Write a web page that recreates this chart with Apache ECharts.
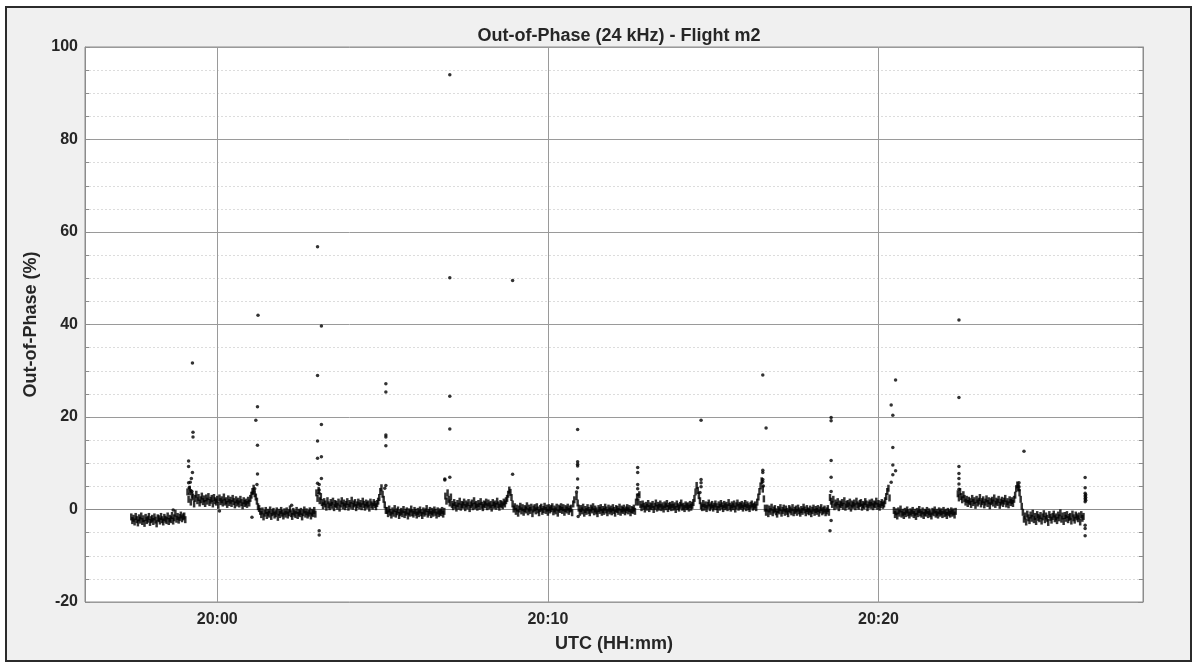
<!DOCTYPE html>
<html>
<head>
<meta charset="utf-8">
<script src="https://cdn.jsdelivr.net/npm/echarts@6/dist/echarts.min.js"></script>
<style>
  html, body { margin: 0; padding: 0; background: #ffffff; width: 1197px; height: 669px; overflow: hidden; }
  #frame { position: absolute; left: 5px; top: 6px; width: 1183px; height: 652px; border: 2px solid #2b2b2b; background: #f0f0f0; }
  #chart { position: absolute; left: 0; top: 0; width: 1197px; height: 669px; }
</style>
</head>
<body>
<div id="frame"></div>
<div id="chart"></div>
<script>
// ---- Data (UTC times, out-of-phase %) ----
const chartTitle = 'Out-of-Phase (24 kHz) - Flight m2';
const xAxisName = 'UTC (HH:mm)';
const yAxisName = 'Out-of-Phase (%)';
const xMinTime = '19:56:00';
const xMaxTime = '20:28:00';
const xTickTimes = ['20:00:00', '20:10:00', '20:20:00'];
const yTicks = [-20, 0, 20, 40, 60, 80, 100];

// band segments: start time and values sampled every sampleStep seconds
const sampleStep = 2;
const segStarts = ['19:57:24','19:59:06','20:01:16','20:03:00','20:05:08','20:06:54','20:09:00','20:10:52','20:12:42','20:14:42','20:16:36','20:18:32','20:20:28','20:22:24','20:24:22'];
const seg01 = [-1.6,-2.4,-1.9,-2.7,-1.5,-2.2,-2.9,-1.8,-2.3,-1.4,-2.6,-2.0,-3.0,-1.7,-2.4,-2.1,-1.5,-2.8,-2.2,-1.9,-2.6,-1.6,-2.3,-3.1,-1.8,-2.0,-2.5,-1.5,-2.2,-2.7,-1.7,-2.1,-2.4,-1.4,-2.6,-1.9,-2.2,-1.3,-2.5,-1.8,-0.8,-2.1,-1.5,-2.3,-1.7,-1.2,-2.0,-1.6,-1.4,-2.2];
const seg02 = [3.8,2.2,4.4,1.6,3.1,2.7,1.2,2.4,3.3,1.9,2.6,1.4,2.1,2.9,1.7,2.3,1.3,2.5,1.8,2.8,1.5,2.0,2.4,1.2,2.6,1.9,1.6,2.2,0.9,2.5,1.7,2.1,1.4,2.7,1.6,1.9,1.1,2.3,1.5,2.0,1.3,2.4,1.7,1.0,2.1,1.4,1.8,1.2,2.2,1.5,0.8,1.9,1.3,1.6,1.1,2.0,1.4,2.4,3.1,3.9,4.6,3.4,2.7,1.8,0.6];
const seg03 = [0.2,-0.4,-1.1,-0.3,-1.6,-0.8,-0.2,-1.3,-0.6,-1.0,-0.1,-1.5,-0.7,-0.4,-1.2,-0.9,-0.3,-1.7,-0.6,-1.1,-0.2,-0.8,-1.4,-0.5,-1.0,-0.3,-1.2,-0.7,0.1,-0.9,-1.5,-0.4,-0.8,-1.1,-0.2,-1.3,-0.6,-0.9,-0.4,-1.6,-0.7,-0.1,-1.0,-0.5,-1.2,-0.8,-0.3,-1.4,-0.6,-0.9,-0.2,-1.0];
const seg04 = [3.6,2.4,4.1,1.9,2.8,1.5,0.8,1.7,1.2,0.5,1.9,1.0,0.6,1.5,0.9,1.8,0.4,1.3,1.1,0.7,1.6,0.3,1.2,1.9,0.8,1.4,0.6,1.1,1.7,0.5,1.3,0.9,2.0,0.7,1.2,1.5,0.4,1.0,1.6,0.8,1.3,0.6,1.8,1.1,0.5,1.4,0.9,1.2,0.3,1.6,1.0,0.7,1.5,1.1,0.6,1.3,1.8,2.6,3.9,4.7,3.3,2.2,1.0,-0.2];
const seg05 = [-0.2,-0.9,0.1,-0.6,-1.2,-0.3,-0.8,0.2,-1.0,-0.5,-0.1,-1.3,-0.7,-0.4,-0.9,0.0,-1.1,-0.6,-0.3,-1.4,-0.5,-0.8,0.1,-0.7,-1.0,-0.2,-0.6,-1.2,-0.4,-0.9,-0.1,-0.7,-1.3,-0.3,-0.8,-0.5,0.2,-1.0,-0.6,-0.2,-1.1,-0.4,-0.8,-0.1,-0.6,-1.2,-0.3,-0.9,-0.5,-0.7,-0.2,-1.0,-0.4];
const seg06 = [2.9,1.8,3.6,2.2,1.4,2.7,1.1,0.6,1.5,0.9,0.3,1.3,0.7,1.8,0.5,1.1,0.9,1.6,0.4,1.2,0.8,1.5,0.2,1.0,1.4,0.6,1.9,0.8,1.1,0.5,1.3,0.7,1.7,0.9,0.4,1.2,1.0,1.6,0.6,1.4,0.8,1.1,0.3,1.5,0.9,1.2,0.7,1.8,1.0,0.5,1.3,1.1,0.8,1.6,1.2,1.9,2.4,3.3,4.2,3.7,2.6,1.2,0.1];
const seg07 = [0.6,-0.4,0.3,-0.8,0.1,0.7,-0.3,0.4,-0.6,0.2,-0.1,0.8,-0.5,0.3,-0.2,0.5,-0.9,0.1,0.4,-0.3,0.6,-0.1,-0.7,0.2,0.5,-0.4,0.0,0.7,-0.2,0.3,-0.6,0.4,-0.1,0.2,0.6,-0.5,0.1,-0.3,0.5,-0.8,0.3,0.0,0.6,-0.2,0.4,-0.6,0.2,-0.1,0.5,-0.4,0.1,0.3,-0.7,1.2,2.1];
const seg08 = [2.8,1.4,0.3,-0.6,0.2,-0.3,0.5,-0.8,0.0,-0.4,0.4,-0.2,-0.7,0.3,-0.1,0.6,-0.5,0.1,-0.3,-0.9,0.2,-0.2,0.4,-0.6,0.0,-0.4,0.5,-0.1,-0.7,0.3,-0.3,0.1,-0.5,0.4,-0.2,-0.8,0.2,0.0,-0.4,0.5,-0.6,0.1,-0.2,0.3,-0.5,-0.1,0.4,-0.3,0.2,-0.7,0.0,-0.2,0.3,-0.4,1.6];
const seg09 = [2.7,1.6,3.2,1.1,0.4,1.2,0.7,0.1,0.9,0.5,1.3,0.2,0.8,0.6,1.1,0.0,0.7,1.4,0.3,0.9,0.5,1.2,0.4,0.8,0.1,1.0,0.6,1.3,0.2,0.7,0.9,0.4,1.1,0.5,0.8,0.0,1.2,0.6,0.3,0.9,1.4,0.5,0.7,0.2,1.0,0.6,0.8,0.3,1.1,0.5,0.9,1.5,2.4,3.8,5.2,4.1,3.0,1.9,0.8,0.4];
const seg10 = [1.3,0.5,1.0,0.2,0.9,1.4,0.4,0.8,1.1,0.3,0.7,1.2,0.6,0.0,1.0,0.5,1.3,0.8,0.2,1.1,0.6,0.9,0.4,1.5,0.7,0.3,1.0,0.6,1.2,0.1,0.8,1.4,0.5,0.9,0.7,1.1,0.3,0.8,1.3,0.4,1.0,0.6,0.2,0.9,1.2,0.5,0.7,1.0,0.4,1.6,2.7,3.9,5.1,6.2,4.4,2.3,0.3];
const seg11 = [-0.6,0.3,-0.9,0.1,-0.4,0.5,-0.7,-0.1,0.2,-0.5,-1.0,0.0,-0.3,0.4,-0.8,-0.2,0.3,-0.6,0.1,-0.4,-0.9,0.2,-0.1,-0.5,0.4,-0.7,-0.2,0.1,-0.6,0.3,-0.3,-0.8,0.0,-0.4,0.5,-0.1,-0.7,0.2,-0.3,-0.5,0.1,-0.9,-0.2,0.3,-0.6,0.0,-0.4,0.2,-0.8,-0.1,0.4,-0.5,-0.2,0.1,-0.7,-0.3,0.2,-0.6];
const seg12 = [2.6,1.8,1.1,2.2,0.6,1.4,0.9,1.7,0.4,1.2,1.0,1.5,0.7,1.9,0.5,1.1,1.3,0.8,1.6,0.3,1.2,0.9,1.4,0.6,1.8,1.0,0.7,1.3,1.5,0.5,1.1,0.8,1.7,1.2,0.4,1.0,1.4,0.9,1.6,0.6,1.2,1.0,1.8,0.7,1.3,0.5,1.1,1.5,0.9,1.2,1.9,2.8,3.9,4.6,2.5];
const seg13 = [-0.2,-1.1,-0.5,-1.4,-0.3,-0.8,0.1,-1.0,-0.6,-1.3,-0.4,-0.9,-0.1,-0.7,-1.2,-0.5,-0.8,-0.2,-1.1,-0.6,-1.5,-0.4,-0.9,0.0,-0.7,-1.0,-0.3,-1.3,-0.6,-0.8,-0.2,-1.1,-0.5,-0.9,-1.4,-0.4,-0.7,-0.1,-1.0,-0.6,-1.2,-0.3,-0.8,-0.5,-1.1,-0.2,-0.9,-0.6,-1.3,-0.4,-0.7,-1.0,-0.3,-0.8,-0.5,-1.2,-0.4];
const seg14 = [3.4,2.5,3.9,2.8,2.1,3.2,2.4,1.6,2.2,1.3,2.0,1.7,1.1,2.4,1.5,1.9,0.9,2.2,1.4,1.8,2.6,1.2,1.7,2.1,1.0,1.6,2.3,1.3,1.9,0.8,1.7,2.0,1.4,2.5,1.1,1.8,1.5,2.2,0.9,1.6,2.0,1.3,1.8,2.4,1.2,1.7,1.0,2.1,1.5,1.9,1.3,2.2,3.1,4.5,5.3,4.8,3.6,2.2,0.7];
const seg15 = [-0.6,-2.1,-1.4,-2.7,-1.0,-1.8,-2.4,-1.2,-1.9,-0.8,-2.2,-1.5,-2.6,-1.1,-1.7,-2.0,-1.3,-2.5,-1.6,-0.9,-2.2,-1.4,-1.9,-2.8,-1.1,-1.7,-2.3,-1.5,-1.0,-2.0,-1.6,-2.4,-1.2,-1.8,-0.7,-2.1,-1.4,-2.6,-1.3,-1.9,-1.1,-2.2,-1.7,-1.5,-2.5,-1.0,-1.8,-2.3,-1.2,-1.6,-2.0,-1.4,-2.7,-1.1,-1.9,-1.5];
const segValues = [seg01, seg02, seg03, seg04, seg05, seg06, seg07, seg08, seg09, seg10, seg11, seg12, seg13, seg14, seg15];

// isolated spikes / outliers
const spikeTimes = [
  '19:58:40',
  '19:59:15','19:59:16','19:59:16','19:59:08','19:59:08','19:59:15','19:59:13','19:59:11','19:59:08','19:59:09','19:59:12','19:59:10','19:59:14',
  '20:00:04',
  '20:01:14','20:01:13','20:01:10','20:01:13','20:01:13','20:01:12','20:01:08','20:01:05','20:01:03',
  '20:02:15',
  '20:03:02','20:03:02','20:03:02','20:03:02','20:03:02','20:03:09','20:03:09','20:03:09','20:03:09','20:03:05','20:03:05','20:03:05','20:03:05','20:03:05',
  '20:05:06','20:05:06','20:05:06','20:05:06','20:05:06','20:05:06','20:05:04',
  '20:07:02','20:07:02','20:07:02','20:07:02','20:07:02','20:06:53','20:06:53',
  '20:08:56','20:08:56',
  '20:10:54','20:10:54','20:10:54','20:10:54','20:10:54','20:10:54','20:10:52','20:10:55',
  '20:12:43','20:12:43','20:12:43','20:12:43','20:12:44',
  '20:14:38','20:14:38','20:14:38','20:14:38','20:14:36',
  '20:16:30','20:16:30','20:16:30','20:16:30','20:16:30','20:16:36','20:16:31',
  '20:18:34','20:18:34','20:18:34','20:18:34','20:18:34','20:18:34','20:18:32',
  '20:20:31','20:20:31','20:20:23','20:20:23','20:20:26','20:20:26','20:20:26','20:20:26',
  '20:22:26','20:22:26','20:22:26','20:22:26','20:22:26','20:22:26','20:22:26',
  '20:24:24','20:24:15','20:24:15','20:24:15',
  '20:26:15','20:26:15','20:26:15','20:26:15','20:26:15','20:26:15','20:26:15','20:26:15','20:26:15','20:26:16','20:26:16','20:26:16'
];
const spikeValues = [
  -0.1,
  31.7,16.7,15.7,10.5,9.3,8.0,6.7,5.9,5.8,4.7,4.1,3.4,3.9,
  -0.3,
  42.0,22.2,19.3,13.9,7.7,5.4,4.5,3.6,-1.7,
  0.9,
  56.8,29.0,14.8,11.1,5.7,39.7,18.4,11.4,6.7,-4.6,-5.5,5.4,4.2,3.5,
  27.2,25.4,16.1,15.7,13.8,5.2,4.6,
  94.0,50.1,24.5,17.4,7.0,6.4,6.6,
  49.5,7.6,
  17.3,10.3,9.8,9.4,6.6,4.7,3.8,-1.5,
  9.1,8.0,5.4,4.5,3.2,
  19.3,6.5,5.8,4.9,3.7,
  29.1,8.5,8.0,6.5,6.0,17.6,5.1,
  19.9,19.2,10.6,7.0,3.9,-2.4,-4.6,
  28.0,8.4,22.6,5.9,20.4,13.4,9.6,7.5,
  41.0,24.2,9.3,7.8,6.7,5.5,4.4,
  12.6,5.8,4.9,4.2,
  6.9,4.7,3.5,2.9,2.3,1.7,-3.4,-4.1,-5.7,3.2,2.6,2.0
];

// ---- helpers ----
function toSec(s) { const p = s.split(':').map(Number); return p[0] * 3600 + p[1] * 60 + (p[2] || 0); }
function fmt(v) { const h = Math.floor(v / 3600), m = Math.round((v - h * 3600) / 60); return String(h).padStart(2, '0') + ':' + String(m).padStart(2, '0'); }

const bandData = [];
segValues.forEach((vals, i) => {
  const t0 = toSec(segStarts[i]);
  vals.forEach((v, k) => bandData.push([t0 + k * sampleStep, v]));
});
const spikeData = spikeTimes.map((t, i) => [toSec(t), spikeValues[i]]);

const font = 'Liberation Sans, Arial, Helvetica, sans-serif';
const textColor = '#262626';
const xTicks = xTickTimes.map(toSec);

const chart = echarts.init(document.getElementById('chart'), null, { renderer: 'canvas' });
chart.setOption({
  backgroundColor: 'transparent',
  animation: false,
  title: {
    text: chartTitle,
    left: 614, top: 22, textAlign: 'center',
    textStyle: { fontFamily: font, fontWeight: 'bold', fontSize: 18, color: textColor }
  },
  grid: { left: 85, top: 47, right: 54, bottom: 67, show: true, backgroundColor: '#ffffff', borderColor: '#8c8c8c', borderWidth: 1 },
  xAxis: {
    type: 'value', min: toSec(xMinTime), max: toSec(xMaxTime),
    name: xAxisName, nameLocation: 'middle', nameGap: 33,
    nameTextStyle: { fontFamily: font, fontWeight: 'bold', fontSize: 18, color: textColor },
    axisLine: { show: true, lineStyle: { color: '#8c8c8c' } },
    axisTick: { show: true, inside: true, length: 5, customValues: xTicks, lineStyle: { color: '#8c8c8c' } },
    axisLabel: { customValues: xTicks, formatter: fmt, margin: 10, fontFamily: font, fontWeight: 'bold', fontSize: 16, color: textColor },
    splitLine: { show: true, lineStyle: { color: '#9a9a9a', width: 1 } },
    minorTick: { show: false }, minorSplitLine: { show: false }
  },
  yAxis: [{
    type: 'value', min: yTicks[0], max: yTicks[yTicks.length - 1], interval: 20,
    name: yAxisName, nameLocation: 'middle', nameGap: 38,
    nameTextStyle: { fontFamily: font, fontWeight: 'bold', fontSize: 18, color: textColor },
    axisLine: { show: true, lineStyle: { color: '#8c8c8c' } },
    axisTick: { show: true, inside: true, length: 5, lineStyle: { color: '#8c8c8c' } },
    minorTick: { show: true, splitNumber: 4, length: 4, lineStyle: { color: '#8c8c8c' } },
    axisLabel: { margin: 7, fontFamily: font, fontWeight: 'bold', fontSize: 16, color: textColor },
    splitLine: { show: true, lineStyle: { color: '#9a9a9a', width: 1 } },
    minorSplitLine: { show: true, lineStyle: { color: '#dcdcdc', type: [2, 2], width: 1 } }
  }, {
    type: 'value', position: 'right', min: yTicks[0], max: yTicks[yTicks.length - 1], interval: 20,
    axisLine: { show: true, lineStyle: { color: '#8c8c8c' } },
    axisTick: { show: true, inside: true, length: 5, lineStyle: { color: '#8c8c8c' } },
    minorTick: { show: true, splitNumber: 4, length: 4, lineStyle: { color: '#8c8c8c' } },
    axisLabel: { show: false }, splitLine: { show: false }
  }],
  series: [{
    name: 'band', type: 'scatter', data: bandData, symbol: 'rect', symbolSize: [2.5, 7],
    itemStyle: { color: '#000000' }, silent: true
  }, {
    name: 'spikes', type: 'scatter', data: spikeData, symbol: 'circle', symbolSize: 3.5,
    itemStyle: { color: '#000000' }, silent: true
  }]
});
</script>
</body>
</html>
